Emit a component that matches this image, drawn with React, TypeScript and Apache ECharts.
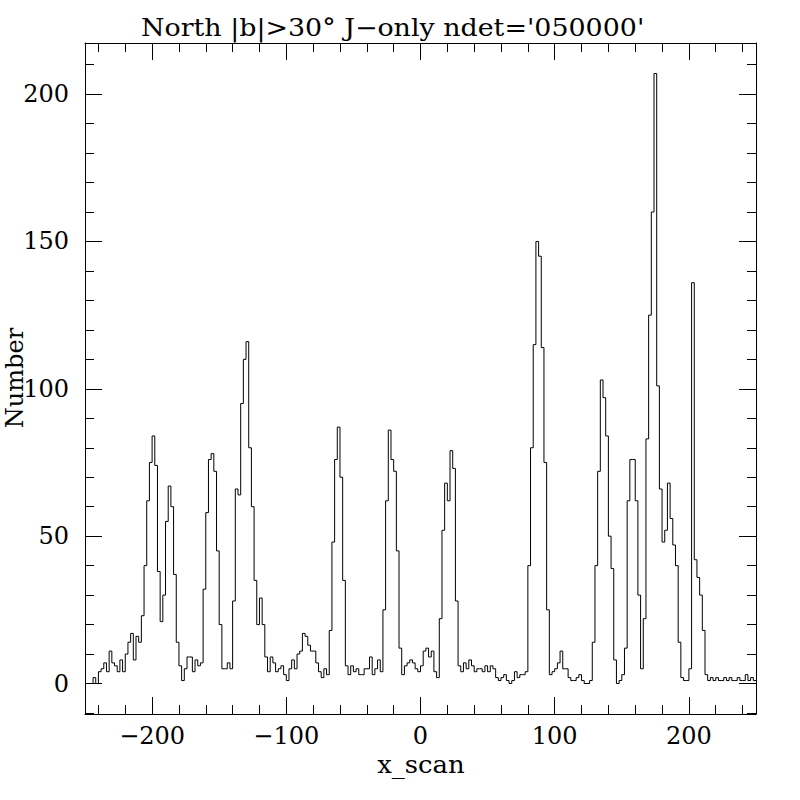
import React, { useEffect, useRef } from 'react';
import * as echarts from 'echarts';

// Histogram: bins of width 2 starting at x_scan = -250
const BIN_START = -250;
const BIN_WIDTH = 2;

// counts for x_scan -250 .. -152
const countsWest = [
  0, 0, 0, 2, 0, 4, 5, 7, 4, 11,
  7, 6, 4, 8, 4, 10, 14, 17, 8, 16,
  14, 23, 40, 62, 75, 84, 74, 38, 21, 30,
  55, 67, 60, 37, 14, 6, 1, 5, 9, 9,
  4, 8, 6, 7, 32, 58, 76, 78, 72, 45,
];
// counts for x_scan -150 .. -52
const countsMidWest = [
  20, 5, 5, 7, 5, 28, 66, 64, 95, 110,
  116, 80, 60, 35, 20, 29, 20, 9, 4, 9,
  7, 4, 5, 6, 3, 1, 5, 8, 5, 10,
  11, 17, 16, 13, 11, 11, 7, 4, 2, 5,
  3, 18, 48, 76, 87, 70, 35, 6, 3, 6,
];
// counts for x_scan -50 .. 48
const countsCentre = [
  4, 5, 3, 3, 5, 5, 9, 3, 5, 8,
  4, 25, 62, 86, 76, 72, 45, 12, 3, 6,
  7, 8, 7, 5, 4, 6, 11, 12, 9, 11,
  4, 2, 22, 52, 68, 62, 79, 73, 28, 6,
  4, 7, 5, 8, 6, 4, 5, 5, 4, 6,
];
// counts for x_scan 50 .. 148
const countsMidEast = [
  4, 6, 5, 2, 1, 2, 3, 1, 0, 1,
  4, 2, 3, 3, 4, 40, 80, 115, 150, 145,
  114, 75, 25, 3, 4, 5, 7, 11, 5, 5,
  2, 1, 1, 2, 3, 1, 0, 0, 1, 14,
  40, 72, 103, 97, 84, 50, 39, 8, 0, 1,
];
// counts for x_scan 150 .. 248
const countsEast = [
  3, 12, 62, 76, 76, 62, 30, 5, 22, 83,
  125, 160, 207, 101, 66, 48, 52, 68, 56, 47,
  40, 14, 2, 1, 1, 5, 136, 42, 36, 30,
  18, 3, 1, 2, 1, 2, 1, 1, 2, 1,
  2, 1, 1, 2, 1, 1, 3, 1, 2, 1,
];

const X_MIN = -250;
const X_MAX = 250;
const Y_MIN = -10.35;
const Y_MAX = 217.35;

const TITLE = "North |b|>30\u00b0 J\u2212only ndet='050000'";
const X_NAME = 'x_scan';
const Y_NAME = 'Number';

const FONT = 'DejaVu Serif';

export default function App() {
  const ref = useRef<HTMLDivElement>(null);

  useEffect(() => {
    if (!ref.current) return;
    const chart = echarts.init(ref.current, null, { renderer: 'svg', width: 800, height: 800 });

    const counts = [...countsWest, ...countsMidWest, ...countsCentre, ...countsMidEast, ...countsEast];
    const data: number[][] = counts.map((v, i) => [BIN_START + i * BIN_WIDTH, v]);
    data.push([BIN_START + counts.length * BIN_WIDTH, counts[counts.length - 1]]);

    const fmtX = (v: number) => {
      if (Math.abs(v % 100) > 1e-9) return '';
      return v < 0 ? '\u2212' + Math.abs(v) : String(v);
    };
    const fmtY = (v: number) => (Math.abs(v % 50) > 1e-9 ? '' : String(v));

    const black = '#000';
    const axisLine = { show: true, onZero: false, lineStyle: { color: black, width: 1 } };
    const axisTick = { show: true, inside: true, length: 17, lineStyle: { color: black, width: 1 } };
    const minorTick = { show: true, splitNumber: 5, length: 9, lineStyle: { color: black, width: 1 } };

    const xBase = {
      type: 'value',
      min: X_MIN,
      max: X_MAX,
      splitNumber: 5,
      axisLine,
      axisTick,
      minorTick,
      splitLine: { show: false },
      minorSplitLine: { show: false },
    };
    const yBase = {
      type: 'value',
      min: Y_MIN,
      max: Y_MAX,
      splitNumber: 5,
      axisLine,
      axisTick,
      minorTick,
      splitLine: { show: false },
      minorSplitLine: { show: false },
    };

    chart.setOption({
      animation: false,
      backgroundColor: '#fff',
      grid: { left: 85, right: 44, top: 43, bottom: 86, containLabel: false, outerBoundsMode: 'none' },
      xAxis: [
        {
          ...xBase,
          position: 'bottom',
          axisLabel: { show: true, formatter: fmtX, color: black, fontFamily: FONT, fontSize: 24, margin: 10 },
        },
        {
          ...xBase,
          position: 'top',
          axisLabel: { show: false },
        },
      ],
      yAxis: [
        {
          ...yBase,
          position: 'left',
          axisLabel: { show: true, formatter: fmtY, color: black, fontFamily: FONT, fontSize: 24, margin: 16 },
        },
        {
          ...yBase,
          position: 'right',
          axisLabel: { show: false },
        },
      ],
      series: [
        {
          type: 'line',
          xAxisIndex: 0,
          yAxisIndex: 0,
          data,
          step: 'end',
          symbol: 'none',
          showSymbol: false,
          lineStyle: { color: black, width: 1 },
          itemStyle: { color: black },
          silent: true,
        },
      ],
      graphic: [
        {
          type: 'text',
          x: 141,
          y: 28,
          scaleX: 1.12,
          style: { text: TITLE, fill: black, fontFamily: FONT, fontSize: 24, align: 'left', verticalAlign: 'middle' },
        },
        {
          type: 'text',
          x: 421,
          y: 765,
          scaleX: 1.08,
          style: { text: X_NAME, fill: black, fontFamily: FONT, fontSize: 24, align: 'center', verticalAlign: 'middle' },
        },
        {
          type: 'text',
          x: 15,
          y: 378,
          rotation: Math.PI / 2,
          style: { text: Y_NAME, fill: black, fontFamily: FONT, fontSize: 24, align: 'center', verticalAlign: 'middle' },
        },
      ],
    });

    return () => chart.dispose();
  }, []);

  return <div ref={ref} style={{ position: 'absolute', left: 0, top: 0, width: 800, height: 800 }} />;
}
